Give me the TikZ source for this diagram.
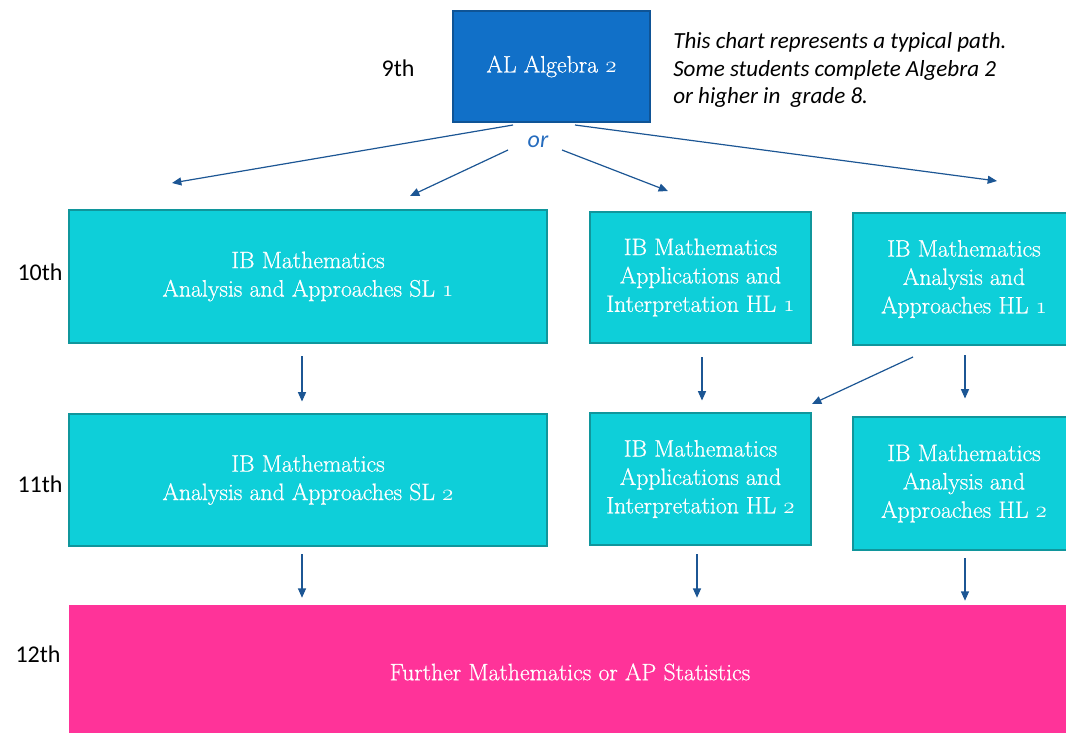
\documentclass[tikz,border=0pt]{standalone}
\usepackage{fontspec}
\newfontfamily\calibri{Carlito}
\newfontfamily\coursefont{Latin Modern Roman}[FakeBold=0.7]
\usetikzlibrary{arrows.meta}
\newcommand\osn[1]{{\usefont{OML}{cmm}{m}{it}#1}}

\definecolor{algblue}{RGB}{17,112,200}
\definecolor{algedge}{RGB}{15,84,150}
\definecolor{ibcyan}{RGB}{14,207,217}
\definecolor{ibedge}{RGB}{16,150,156}
\definecolor{fmpink}{RGB}{255,51,153}
\definecolor{arrblue}{RGB}{28,86,148}
\definecolor{orblue}{RGB}{38,108,190}

\tikzset{
  size/.style 2 args={minimum width=#1*0.75pt, minimum height=#2*0.75pt},
  course/.style={rectangle, inner sep=0pt, align=center, text=white,
    font=\coursefont\fontsize{17.8}{21.3}\selectfont},
  ib/.style={course, fill=ibcyan, draw=ibedge, line width=2.2pt},
  grade/.style={font=\calibri\fontsize{18}{20}\selectfont},
  arr/.style={draw=arrblue, line width=0.9pt, -{Triangle[length=7pt,width=6pt]}}
}

\begin{document}
\begin{tikzpicture}[x=0.75pt, y=-0.75pt]
	\useasboundingbox (0,0) rectangle (1066,732);
	\clip (0,0) rectangle (1066,732);

	% courses
	\node at (551.5,66.5) [course, size={197}{111}, fill=algblue, draw=algedge, line width=2.2pt] (alg) {AL Algebra \osn{2}};
	\node at (308,276.5) [ib, size={478}{133}] (sl1) {IB Mathematics\\Analysis and Approaches SL \osn{1}};
	\node at (700.5,277.5) [ib, size={221}{131}] (aihl1) {IB Mathematics\\Applications and\\Interpretation HL \osn{1}};
	\node at (964,279) [ib, size={222}{132}] (aahl1) {IB Mathematics\\Analysis and\\Approaches HL \osn{1}};
	\node at (308,480) [ib, size={478}{132}] (sl2) {IB Mathematics\\Analysis and Approaches SL \osn{2}};
	\node at (700.5,479) [ib, size={221}{132}] (aihl2) {IB Mathematics\\Applications and\\Interpretation HL \osn{2}};
	\node at (964,483.5) [ib, size={222}{133}] (aahl2) {IB Mathematics\\Analysis and\\Approaches HL \osn{2}};
	\node at (570,672) [course, size={1002}{134}, fill=fmpink] (fm) {Further Mathematics or AP Statistics};

	% grades and notes
	\node at (398,68) [grade] (g9) {9th};
	\node at (40,272) [grade] (g10) {10th};
	\node at (40,484) [grade] (g11) {11th};
	\node at (38,654) [grade] (g12) {12th};
	\node at (673,70) [anchor=west, inner sep=0pt, align=left, font=\calibri\itshape\fontsize{17.3}{20.5}\selectfont] (note)
		{This chart represents a typical path.\\Some students complete Algebra 2\\or higher in~~grade 8.};
	\node at (538,142) [font=\calibri\itshape\fontsize{18}{20}\selectfont, text=orblue] (or) {or};

	% fan out of Algebra 2
	\coordinate (s1) at (513,125);
	\coordinate (e1) at (172,183);
	\coordinate (s2) at (508,150);
	\coordinate (e2) at (410,196);
	\coordinate (s3) at (562,150);
	\coordinate (e3) at (668,191);
	\coordinate (s4) at (575,125);
	\coordinate (e4) at (997,181);
	\draw [arr] (s1) -- (e1);
	\draw [arr] (s2) -- (e2);
	\draw [arr] (s3) -- (e3);
	\draw [arr] (s4) -- (e4);

	% 10th to 11th
	\draw [arr] ([shift={(-6,12)}]sl1.south) -- ([shift={(-6,-11)}]sl1.south |- sl2.north);
	\draw [arr] ([shift={(1.5,13)}]aihl1.south) -- ([shift={(1.5,-11)}]aihl1.south |- aihl2.north);
	\draw [arr] ([shift={(1,9)}]aahl1.south) -- ([shift={(1,-17)}]aahl1.south |- aahl2.north);
	\coordinate (d1) at (913,357);
	\coordinate (d2) at (812,404);
	\draw [arr] (d1) -- (d2);

	% 11th to 12th
	\draw [arr] ([shift={(-6,7)}]sl2.south) -- ([shift={(-6,-7)}]sl2.south |- fm.north);
	\draw [arr] ([shift={(-3.5,8)}]aihl2.south) -- ([shift={(-3.5,-7)}]aihl2.south |- fm.north);
	\draw [arr] ([shift={(1,7)}]aahl2.south) -- ([shift={(1,-4)}]aahl2.south |- fm.north);
\end{tikzpicture}
\end{document}
